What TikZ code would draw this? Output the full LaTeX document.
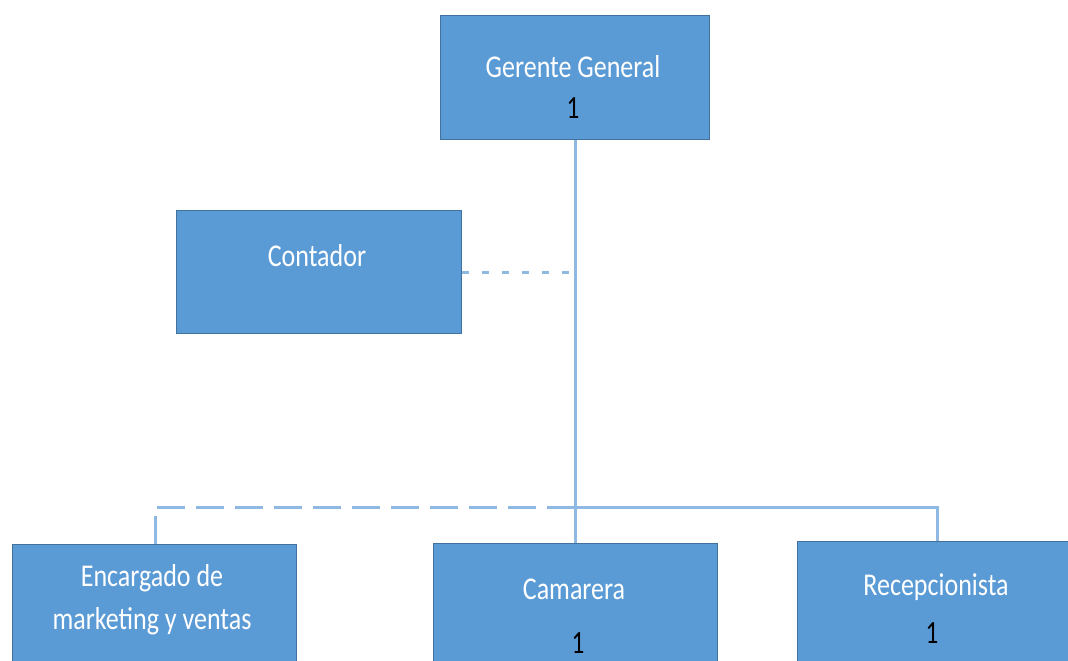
\documentclass[tikz,border=0pt]{standalone}
\usepackage{graphicx}
\usepackage{fontspec}
\setmainfont{Carlito}
\usetikzlibrary{calc}
\definecolor{boxfill}{HTML}{5B9BD5}
\definecolor{boxedge}{HTML}{41719C}
\definecolor{linecol}{HTML}{8FB8E3}
\newcommand\stretchtxt[1]{\scalebox{1}[1.22]{#1}}
\newcommand\stretchnum[1]{\scalebox{1.05}[1.35]{#1}}
\begin{document}
\begin{tikzpicture}[x=1pt,y=-1pt,
  box/.style={draw=boxedge,line width=1.2pt,fill=boxfill,minimum width=#1,anchor=north west,inner sep=0pt},
  box/.default=285pt,
  lbl/.style={text=white,font=\fontsize{26}{28}\selectfont,inner sep=0pt},
  num/.style={text=black,font=\fontsize{24}{26}\selectfont,inner sep=0pt},
  conn/.style={draw=linecol,line width=3pt},
  dashline/.style={conn,dash pattern=on 28pt off 11pt},
  dotline/.style={conn,dash pattern=on 7pt off 13pt}]
\useasboundingbox (0,0) rectangle (1068,661);
\node[box=269pt,minimum height=124pt] (gg) at (440,15) {};
\node[box=285pt,minimum height=123pt] (cont) at (176,210) {};
\node[box=284pt,minimum height=140pt] (enc) at (12,544) {};
\node[box=284pt,minimum height=140pt] (cam) at (433,543) {};
\node[box=284pt,minimum height=140pt] (rec) at (797,541) {};
\node[lbl] (t1) at (573,67) {\stretchtxt{Gerente General}};
\node[num] (n1) at (573,108) {\stretchnum{1}};
\node[lbl] (t2) at (317,256) {\stretchtxt{Contador}};
\node[lbl] (t3) at (152,578) {\stretchtxt{Encargado de}};
\node[lbl] (t3b) at (152,621) {\stretchtxt{marketing y ventas}};
\node[lbl] (t4) at (574,589) {\stretchtxt{Camarera}};
\node[num] (n4) at (578,643) {\stretchnum{1}};
\node[lbl] (t5) at (936,587) {\stretchtxt{Recepcionista}};
\node[num] (n5) at (932,633) {\stretchnum{1}};
\coordinate (bus) at (575,507);
\draw[conn] (gg.south -| bus) -- (bus);
\draw[conn] (bus) -- (cam.north -| bus);
\draw[conn] (bus) -| (937,541);
\draw[dashline] (bus) -| (155,544);
\draw[dotline] (cont.east) -- (cont.east -| bus);
\end{tikzpicture}
\end{document}
